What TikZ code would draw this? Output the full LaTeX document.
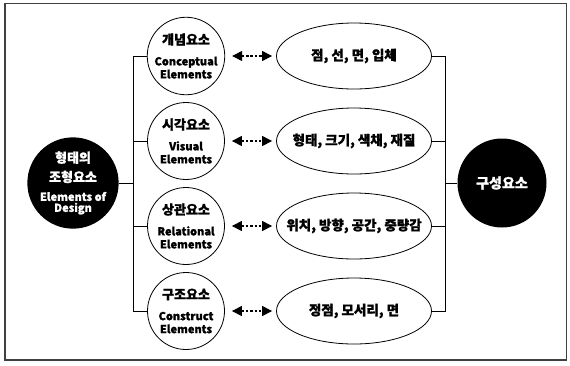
\documentclass[tikz,border=0pt]{standalone}
\usepackage{fontspec}
\setmainfont{Noto Sans CJK KR}[BoldFeatures={FakeBold=1.2}]
\usetikzlibrary{shapes.geometric,arrows.meta}
\tikzset{
  bigc/.style={circle, fill=black, text=white, minimum size=89pt, inner sep=0pt, align=center, font=\bfseries},
  smallc/.style={circle, draw=black, line width=0.8pt, fill=white, minimum size=77pt, inner sep=0pt, align=center, font=\bfseries},
  ell/.style={ellipse, draw=black, line width=0.8pt, minimum width=155pt, minimum height=66pt, inner sep=0pt, font=\bfseries\fontsize{13.5}{15}\selectfont},
  conn/.style={line width=0.9pt},
  darr/.style={line width=1.1pt, dash pattern=on 2.5pt off 1.8pt, {Triangle[length=10pt,width=10pt]}-{Triangle[length=10pt,width=10pt]}, shorten <=7pt, shorten >=4pt},
}
\newcommand{\kt}[1]{{\fontsize{13}{15}\selectfont #1}}
\newcommand{\et}[1]{{\fontsize{11}{14}\selectfont #1}}
\newcommand{\ez}[1]{\makebox[0pt]{#1}}
\begin{document}
\begin{tikzpicture}[x=1pt,y=-1pt]
\useasboundingbox (0,0) rectangle (570,365);
\draw[line width=1.2pt, draw=black!75] (5,3.5) rectangle (566.5,360);

\node[bigc] (L) at (73,183) {\kt{형태의}\\[6pt]\kt{조형요소}\\[7pt]\et{Elements of}\\[-1pt]\et{Design}};
\node[bigc] (R) at (502,183) {\fontsize{14}{16}\selectfont 구성요소};

\node[smallc] (c1) at (186,56) {\kt{개념요소}\\[9pt]\et{Conceptual}\\[1pt]\et{Elements}};
\node[smallc] (c2) at (186,141) {\kt{시각요소}\\[9pt]\et{Visual}\\[1pt]\et{Elements}};
\node[smallc] (c3) at (186,226) {\kt{상관요소}\\[9pt]\et{Relational}\\[1pt]\et{Elements}};
\node[smallc] (c4) at (186,311) {\kt{구조요소}\\[9pt]\et{Construct}\\[1pt]\et{Elements}};

\node[ell] (e1) at (354,56) {\ez{점, 선, 면, 입체}};
\node[ell] (e2) at (354,141) {\ez{형태, 크기, 색채, 재질}};
\node[ell] (e3) at (354,226) {\ez{위치, 방향, 공간, 중량감}};
\node[ell] (e4) at (354,311) {\ez{정점, 모서리, 면}};

\coordinate (tl) at (133,0);
\coordinate (tr) at (445,0);

\draw[conn] (c1.west) -- (c1.west -| tl) -- (c4.west -| tl) -- (c4.west);
\draw[conn] (c2.west) -- (c2.west -| tl);
\draw[conn] (c3.west) -- (c3.west -| tl);
\draw[conn] (L.east) -- (L.east -| tl);

\draw[conn] (e1.east) -- (e1.east -| tr) -- (e4.east -| tr) -- (e4.east);
\draw[conn] (e2.east) -- (e2.east -| tr);
\draw[conn] (e3.east) -- (e3.east -| tr);
\draw[conn] (R.west) -- (R.west -| tr);

\foreach \i in {1,2,3,4} {
  \draw[darr] (c\i.east) -- (e\i.west);
}
\end{tikzpicture}
\end{document}
